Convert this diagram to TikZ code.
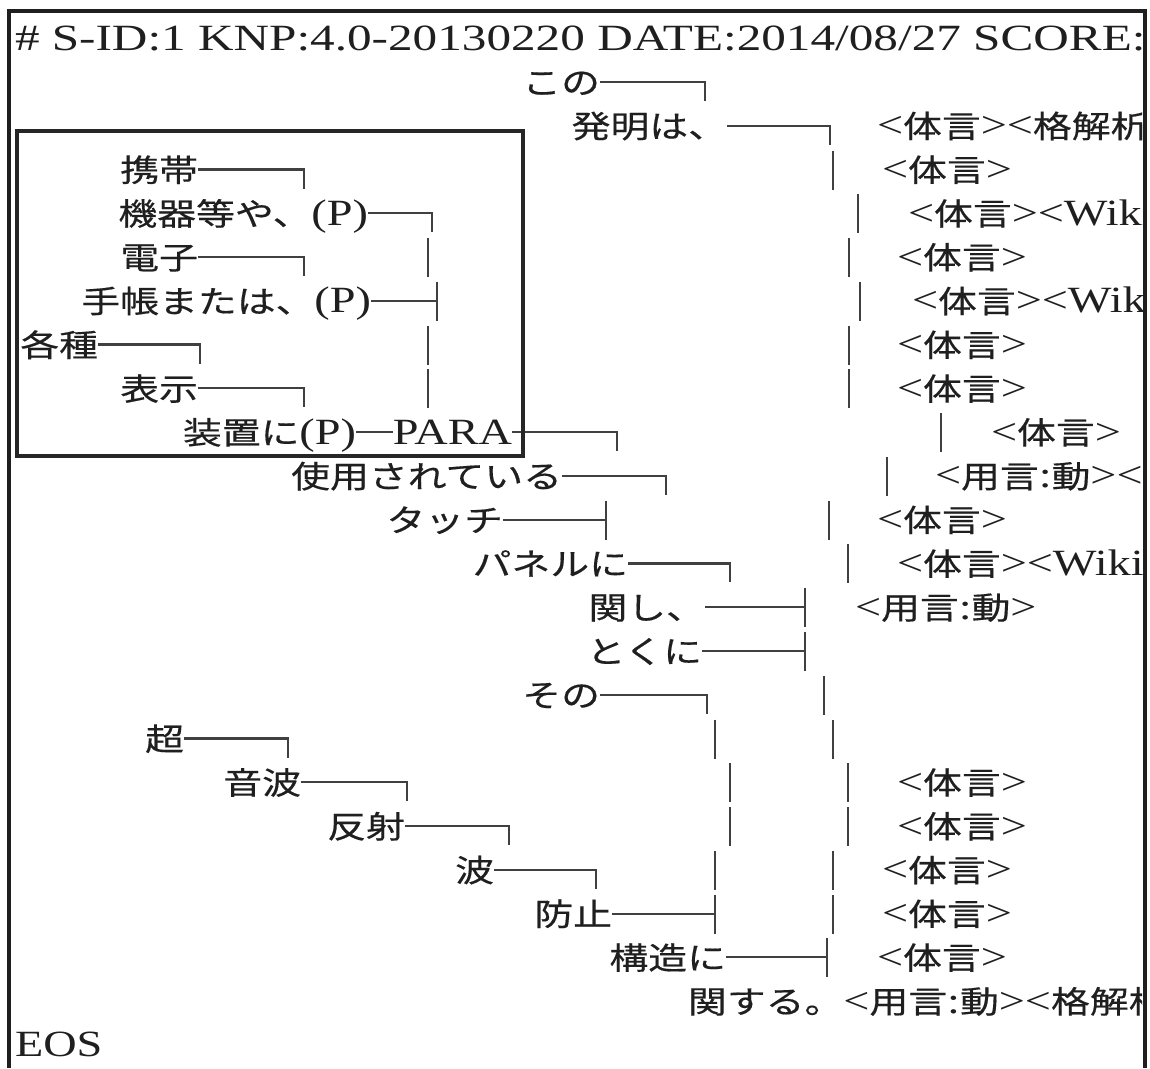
\documentclass[tikz,border=0pt]{standalone}
\usepackage{fontspec}
\setmainfont{Liberation Serif}[FakeStretch=1.25]
\newfontfamily\hdrfont{Liberation Serif}[FakeStretch=1.33]
\newfontfamily\cjk{Noto Sans CJK JP}[Scale=0.84,FakeStretch=1.25,FakeBold=0.4]
\newcommand\J[1]{{\cjk #1}}
\def\ry#1{(38.2+43.77*#1)}
\newcommand\vb[2]{\draw[conn] (#1,{\ry{#2}-19}) -- (#1,{\ry{#2}+20});}
\newcommand\Lt[4]{\node[txt,anchor=base east] (#1) at (#2,{\ry{#3}+12}) {#4};}
\newcommand\Rt[4]{\node[txt,anchor=base west] (#1) at (#2,{\ry{#3}+12}) {#4};}
% corner: from node east to x, then down
\newcommand\Cd[3]{\draw[conn] ([yshift=12pt]#1.base east) -- (#2,{\ry{#3}}) -- (#2,{\ry{#3}+19});}
% tee: from node east to x, plus full vertical
\newcommand\Ct[3]{\draw[conn] ([yshift=12pt]#1.base east) -- (#2,{\ry{#3}}); \vb{#2}{#3}}
\begin{document}
\begin{tikzpicture}[x=1pt,y=-1pt,
  txt/.style={inner sep=0pt,outer sep=0pt,font=\fontsize{37}{37}\selectfont,text=black!88},
  conn/.style={draw=black!75,line width=2.2pt},
  outerframe/.style={draw=black!88,line width=4pt},
  selbox/.style={draw=black!85,line width=3.5pt}]
\useasboundingbox (0,0) rectangle (1150,1068);
\fill[white] (0,0) rectangle (1150,1068);
\begin{scope}
\clip (0,0) rectangle (1142,1068);
% row 0
\Rt{hdr}{15}{0}{\hdrfont\# S-ID:1 KNP:4.0-20130220 DATE:2014/08/27 SCORE:-3}
% row 1
\Lt{kono}{600}{1}{\J{この}}
\Cd{kono}{705}{1}
% row 2
\Lt{hatsu}{727}{2}{\J{発明は、}}
\Cd{hatsu}{830}{2}
\Rt{f2}{877}{2}{<\J{体言}><\J{格解析}}
% row 3
\Lt{keitai}{198}{3}{\J{携帯}}
\Cd{keitai}{304}{3}
\vb{833}{3}
\Rt{f3}{882}{3}{<\J{体言}>}
% row 4
\Lt{kiki}{368}{4}{\J{機器等や、}(P)}
\Cd{kiki}{432}{4}
\vb{858}{4}
\Rt{f4}{908}{4}{<\J{体言}><Wiki}
% row 5
\Lt{denshi}{198}{5}{\J{電子}}
\Cd{denshi}{304}{5}
\vb{428}{5}
\vb{849}{5}
\Rt{f5}{897}{5}{<\J{体言}>}
% row 6
\Lt{techo}{371}{6}{\J{手帳または、}(P)}
\Ct{techo}{437}{6}
\vb{860}{6}
\Rt{f6}{912}{6}{<\J{体言}><Wiki}
% row 7
\Lt{kakushu}{98}{7}{\J{各種}}
\Cd{kakushu}{200}{7}
\vb{428}{7}
\vb{849}{7}
\Rt{f7}{897}{7}{<\J{体言}>}
% row 8
\Lt{hyoji}{198}{8}{\J{表示}}
\Cd{hyoji}{304}{8}
\vb{428}{8}
\vb{849}{8}
\Rt{f8}{897}{8}{<\J{体言}>}
% row 9
\Lt{sochi}{356}{9}{\J{装置に}(P)}
\Lt{para}{512}{9}{PARA}
\draw[conn] ([yshift=12pt]sochi.base east) -- ([yshift=12pt]para.base west);
\Cd{para}{617}{9}
\vb{941}{9}
\Rt{f9}{991}{9}{<\J{体言}>}
% row 10
\Lt{shiyo}{562}{10}{\J{使用されている}}
\Cd{shiyo}{666}{10}
\vb{887}{10}
\Rt{f10}{935}{10}{<\J{用言}:\J{動}><}
% row 11
\Lt{touch}{503}{11}{\J{タッチ}}
\Ct{touch}{606}{11}
\vb{829}{11}
\Rt{f11}{877}{11}{<\J{体言}>}
% row 12
\Lt{panel}{628}{12}{\J{パネルに}}
\Cd{panel}{730}{12}
\vb{848}{12}
\Rt{f12}{897}{12}{<\J{体言}><Wiki}
% row 13
\Lt{kanshi}{705}{13}{\J{関し、}}
\Ct{kanshi}{805}{13}
\Rt{f13}{855}{13}{<\J{用言}:\J{動}>}
% row 14
\Lt{tokuni}{702}{14}{\J{とくに}}
\Ct{tokuni}{805}{14}
% row 15
\Lt{sono}{600}{15}{\J{その}}
\Cd{sono}{707}{15}
\vb{824}{15}
% row 16
\Lt{cho}{184}{16}{\J{超}}
\Cd{cho}{288}{16}
\vb{715}{16}
\vb{833}{16}
% row 17
\Lt{onpa}{301}{17}{\J{音波}}
\Cd{onpa}{407}{17}
\vb{730}{17}
\vb{848}{17}
\Rt{f17}{897}{17}{<\J{体言}>}
% row 18
\Lt{hansha}{405}{18}{\J{反射}}
\Cd{hansha}{509}{18}
\vb{730}{18}
\vb{848}{18}
\Rt{f18}{897}{18}{<\J{体言}>}
% row 19
\Lt{nami}{494}{19}{\J{波}}
\Cd{nami}{596}{19}
\vb{715}{19}
\vb{833}{19}
\Rt{f19}{882}{19}{<\J{体言}>}
% row 20
\Lt{boshi}{612}{20}{\J{防止}}
\Ct{boshi}{715}{20}
\vb{833}{20}
\Rt{f20}{882}{20}{<\J{体言}>}
% row 21
\Lt{kozo}{726}{21}{\J{構造に}}
\Ct{kozo}{827}{21}
\Rt{f21}{877}{21}{<\J{体言}>}
% row 22
\Rt{kansuru}{688}{22}{\J{関する。}<\J{用言}:\J{動}><\J{格解析}}
% row 23
\Rt{eos}{15}{23}{EOS}
\end{scope}
\draw[outerframe] (9,1068) -- (9,11) -- (1145,11) -- (1145,1068);
\draw[selbox] (17,131) rectangle (523,456);
\end{tikzpicture}
\end{document}
